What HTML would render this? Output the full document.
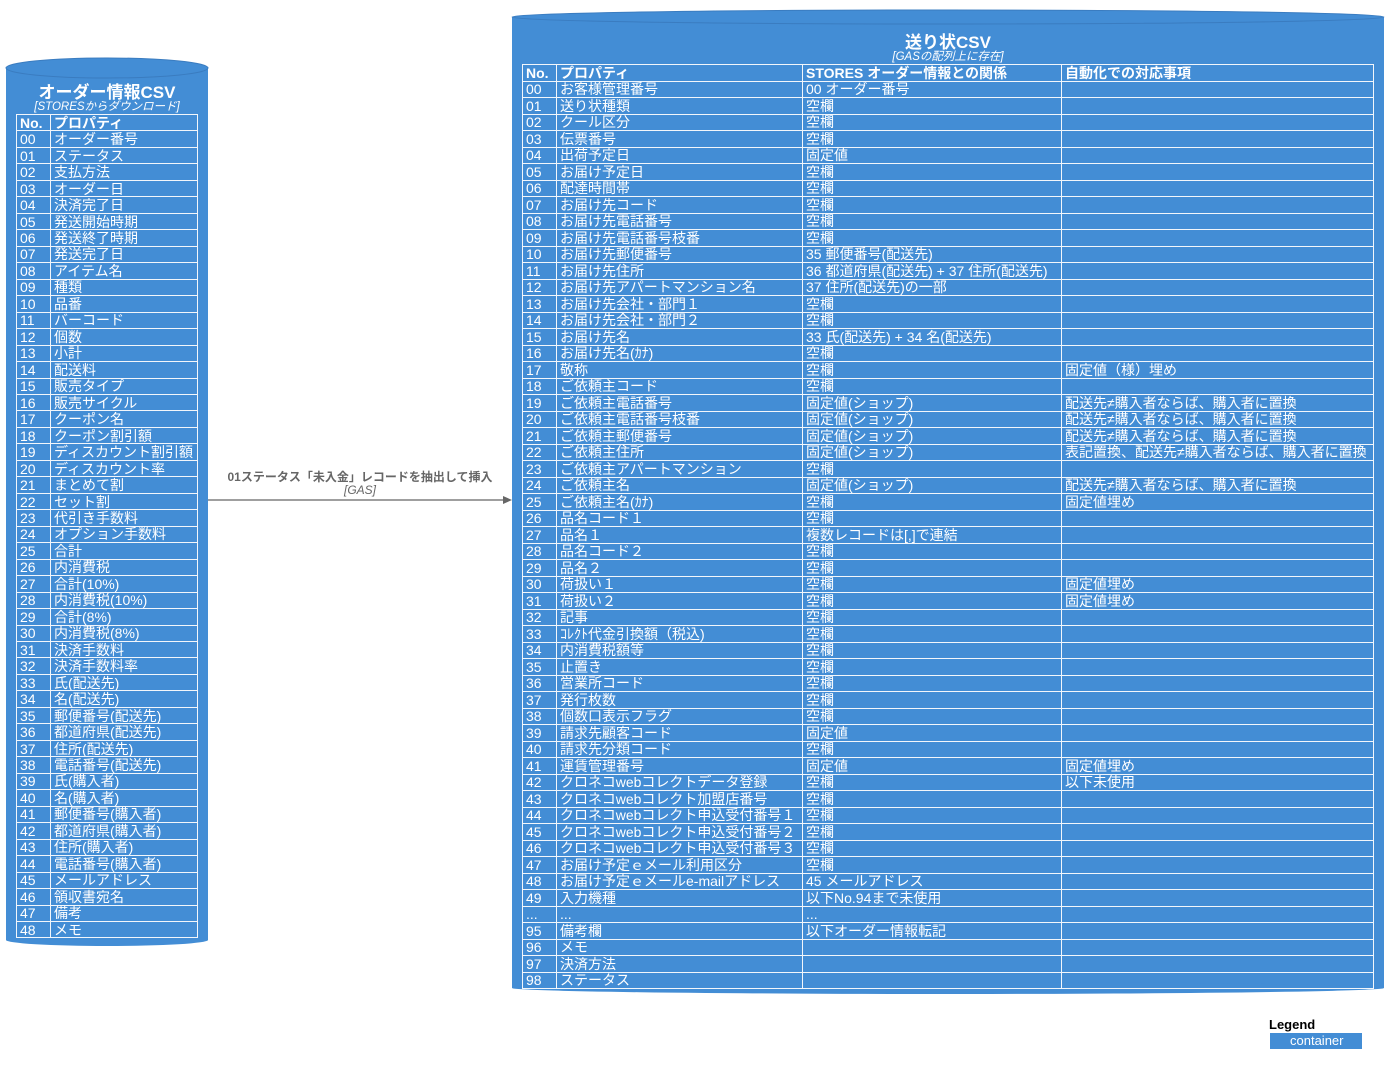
<!DOCTYPE html>
<html><head><meta charset="utf-8"><style>
body{margin:0;width:1389px;height:1071px;background:#fff;position:relative;overflow:hidden;font-family:"Liberation Sans","Noto Sans CJK JP",sans-serif;}
.abs{position:absolute}
table{position:absolute;border-collapse:collapse;color:#fff;font-size:14px;table-layout:fixed}
td{border:1.5px solid #f2f6fb;padding:0 0 0 3px;white-space:nowrap;overflow:hidden;line-height:14px;vertical-align:middle}
tr.h td{font-weight:bold}
.t{color:#fff;text-align:center;font-weight:bold}
.s{color:#fff;text-align:center;font-style:italic;font-size:11.5px}
</style></head><body>
<svg class="abs" style="left:0;top:0" width="1389" height="1071">
<rect x="6" y="68" width="202" height="872" fill="#438dd5"/>
<ellipse cx="107" cy="940" rx="101" ry="6" fill="#438dd5"/>
<ellipse cx="107" cy="68" rx="101" ry="10" fill="#438dd5" stroke="#3a7cc0" stroke-width="1"/>
<rect x="512" y="17" width="872" height="971" fill="#438dd5"/>
<ellipse cx="948" cy="988" rx="436" ry="6" fill="#438dd5"/>
<ellipse cx="948" cy="17" rx="436" ry="7" fill="#438dd5" stroke="#3a7cc0" stroke-width="1"/>
<line x1="208" y1="500" x2="505" y2="500" stroke="#666" stroke-width="1.3"/>
<polygon points="512,500 503,496 503,504" fill="#666"/>
<rect x="1270" y="1033" width="92" height="16" fill="#438dd5"/>
</svg>
<div class="abs t" style="left:6px;top:78px;width:202px;font-size:17px">オーダー情報CSV</div>
<div class="abs s" style="left:6px;top:98px;width:202px">[STORESからダウンロード]</div>
<div class="abs t" style="left:512px;top:28px;width:872px;font-size:17px">送り状CSV</div>
<div class="abs s" style="left:512px;top:48px;width:872px">[GASの配列上に存在]</div>
<div class="abs" style="left:208px;top:468px;width:304px;text-align:center;color:#666;font-size:12px;font-weight:bold">01ステータス「未入金」レコードを抽出して挿入</div>
<div class="abs" style="left:208px;top:483px;width:304px;text-align:center;color:#666;font-size:12px;font-style:italic">[GAS]</div>
<div class="abs" style="left:1269px;top:1017px;font-size:13px;font-weight:bold;color:#000">Legend</div>
<div class="abs" style="left:1290px;top:1033px;font-size:13px;color:#fff">container</div>

<table style="left:16px;top:114px;width:182px">
<colgroup><col style="width:34px"><col></colgroup>
<tbody id="L"></tbody></table>
<table style="left:522px;top:64px;width:852px">
<colgroup><col style="width:34px"><col style="width:246px"><col style="width:259px"><col></colgroup>
<tbody id="R"></tbody></table>
<script>
var L=["No.|プロパティ","00|オーダー番号","01|ステータス","02|支払方法","03|オーダー日","04|決済完了日","05|発送開始時期","06|発送終了時期","07|発送完了日","08|アイテム名","09|種類","10|品番","11|バーコード","12|個数","13|小計","14|配送料","15|販売タイプ","16|販売サイクル","17|クーポン名","18|クーポン割引額","19|ディスカウント割引額","20|ディスカウント率","21|まとめて割","22|セット割","23|代引き手数料","24|オプション手数料","25|合計","26|内消費税","27|合計(10%)","28|内消費税(10%)","29|合計(8%)","30|内消費税(8%)","31|決済手数料","32|決済手数料率","33|氏(配送先)","34|名(配送先)","35|郵便番号(配送先)","36|都道府県(配送先)","37|住所(配送先)","38|電話番号(配送先)","39|氏(購入者)","40|名(購入者)","41|郵便番号(購入者)","42|都道府県(購入者)","43|住所(購入者)","44|電話番号(購入者)","45|メールアドレス","46|領収書宛名","47|備考","48|メモ"];
var R=["No.|プロパティ|STORES オーダー情報との関係|自動化での対応事項","00|お客様管理番号|00 オーダー番号|","01|送り状種類|空欄|","02|クール区分|空欄|","03|伝票番号|空欄|","04|出荷予定日|固定値|","05|お届け予定日|空欄|","06|配達時間帯|空欄|","07|お届け先コード|空欄|","08|お届け先電話番号|空欄|","09|お届け先電話番号枝番|空欄|","10|お届け先郵便番号|35 郵便番号(配送先)|","11|お届け先住所|36 都道府県(配送先) + 37 住所(配送先)|","12|お届け先アパートマンション名|37 住所(配送先)の一部|","13|お届け先会社・部門１|空欄|","14|お届け先会社・部門２|空欄|","15|お届け先名|33 氏(配送先) + 34 名(配送先)|","16|お届け先名(ｶﾅ)|空欄|","17|敬称|空欄|固定値（様）埋め","18|ご依頼主コード|空欄|","19|ご依頼主電話番号|固定値(ショップ)|配送先≠購入者ならば、購入者に置換","20|ご依頼主電話番号枝番|固定値(ショップ)|配送先≠購入者ならば、購入者に置換","21|ご依頼主郵便番号|固定値(ショップ)|配送先≠購入者ならば、購入者に置換","22|ご依頼主住所|固定値(ショップ)|表記置換、配送先≠購入者ならば、購入者に置換","23|ご依頼主アパートマンション|空欄|","24|ご依頼主名|固定値(ショップ)|配送先≠購入者ならば、購入者に置換","25|ご依頼主名(ｶﾅ)|空欄|固定値埋め","26|品名コード１|空欄|","27|品名１|複数レコードは[,]で連結|","28|品名コード２|空欄|","29|品名２|空欄|","30|荷扱い１|空欄|固定値埋め","31|荷扱い２|空欄|固定値埋め","32|記事|空欄|","33|ｺﾚｸﾄ代金引換額（税込)|空欄|","34|内消費税額等|空欄|","35|止置き|空欄|","36|営業所コード|空欄|","37|発行枚数|空欄|","38|個数口表示フラグ|空欄|","39|請求先顧客コード|固定値|","40|請求先分類コード|空欄|","41|運賃管理番号|固定値|固定値埋め","42|クロネコwebコレクトデータ登録|空欄|以下未使用","43|クロネコwebコレクト加盟店番号|空欄|","44|クロネコwebコレクト申込受付番号１|空欄|","45|クロネコwebコレクト申込受付番号２|空欄|","46|クロネコwebコレクト申込受付番号３|空欄|","47|お届け予定ｅメール利用区分|空欄|","48|お届け予定ｅメールe-mailアドレス|45 メールアドレス|","49|入力機種|以下No.94まで未使用|","...|...|...|","95|備考欄|以下オーダー情報転記|","96|メモ||","97|決済方法||","98|ステータス||"];
function fill(id,a,h){var s="";a.forEach(function(r,i){s+='<tr'+(i==0?' class="h"':'')+' style="height:'+h+'px">'+r.split("|").map(function(c){return"<td>"+c+"</td>"}).join("")+"</tr>";});document.getElementById(id).innerHTML=s;}
fill("L",L,16.48);fill("R",R,16.5);
</script>
</body></html>
